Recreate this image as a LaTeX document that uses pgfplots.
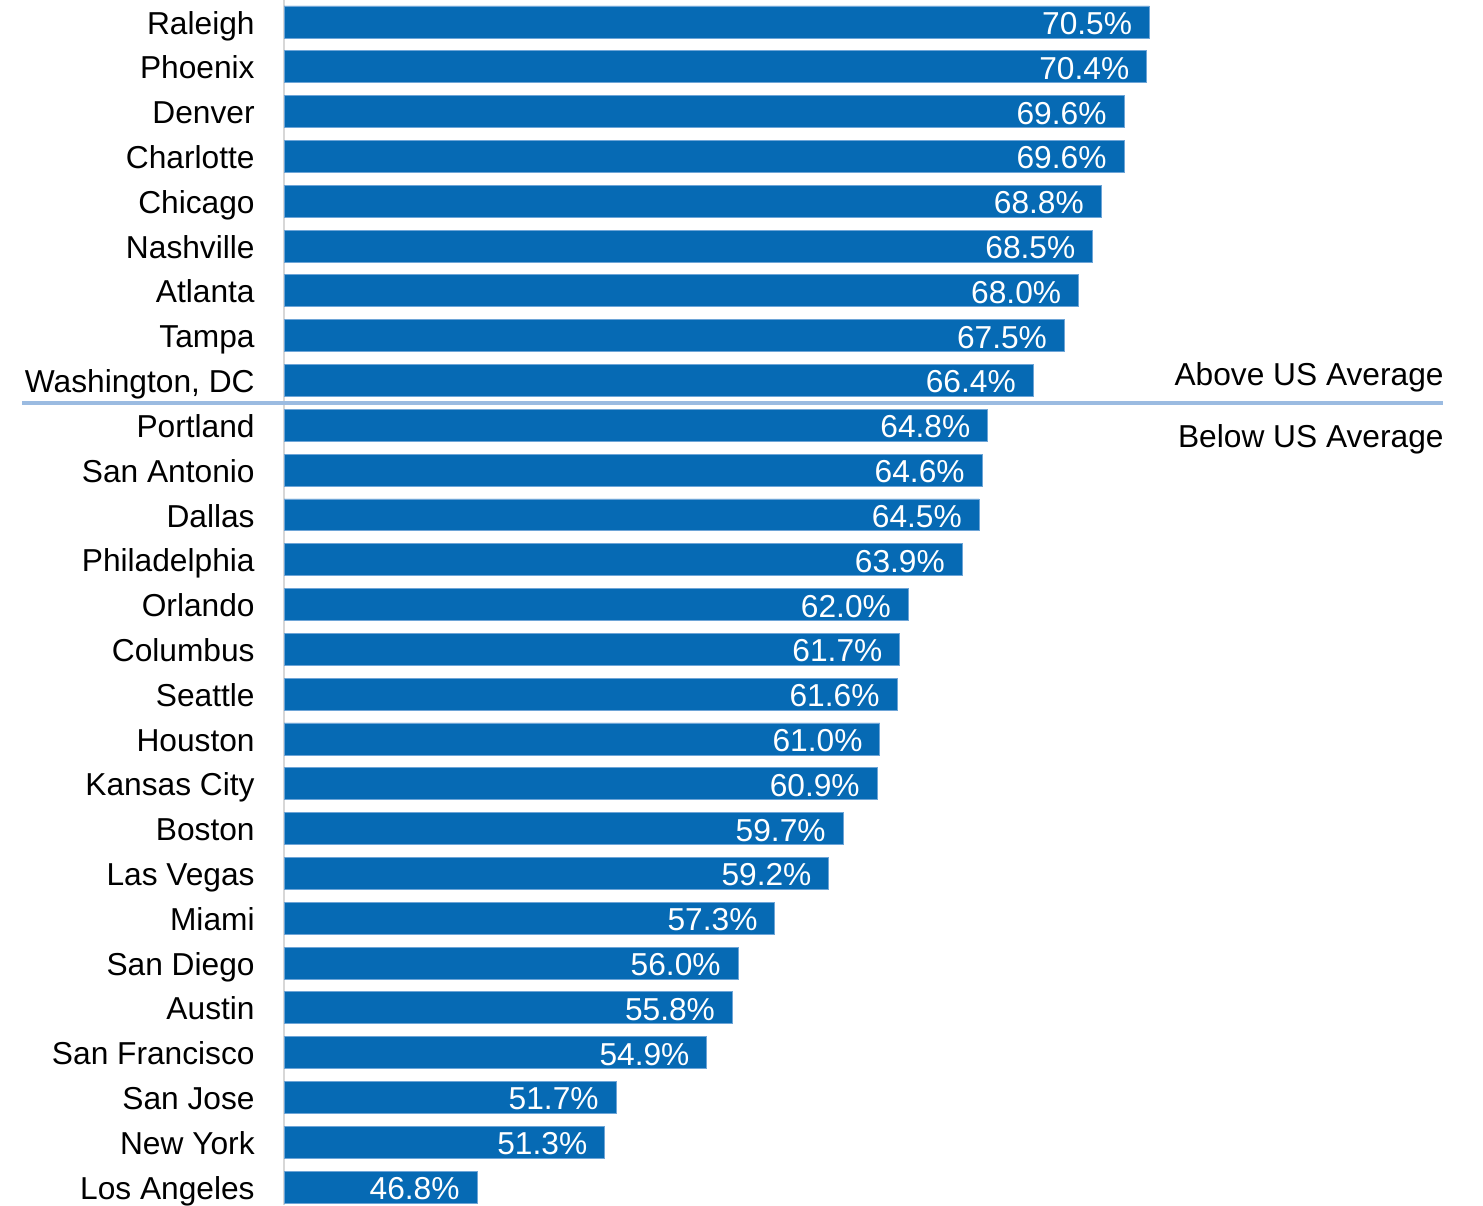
\documentclass[border=0pt]{standalone}
\usepackage{fontspec}
\setmainfont{Liberation Sans}
\usepackage{pgfplots}
\pgfplotsset{compat=1.18}
\definecolor{barblue}{RGB}{6,106,180}
\definecolor{baredge}{RGB}{110,165,215}
\definecolor{sepblue}{RGB}{155,187,225}
\definecolor{axgray}{RGB}{215,215,215}
\newcommand{\chartfont}{\fontsize{15.85}{19}\selectfont}
\begin{document}
\begin{tikzpicture}
\begin{axis}[
  at={(142pt,0pt)}, anchor=south west,
  scale only axis, width=567.5pt, height=602.5pt,
  xbar, bar width=0.714,
  xmin=40, xmax=80,
  ymin=-0.49, ymax=26.4, y dir=reverse,
  axis x line=none,
  axis y line*=left,
  y axis line style={draw=axgray, line width=0.8pt},
  ytick={0,...,26},
  yticklabels={Raleigh,Phoenix,Denver,Charlotte,Chicago,Nashville,Atlanta,Tampa,{Washington, DC},Portland,San Antonio,Dallas,Philadelphia,Orlando,Columbus,Seattle,Houston,Kansas City,Boston,Las Vegas,Miami,San Diego,Austin,San Francisco,San Jose,New York,Los Angeles},
  major tick length=0pt,
  yticklabel style={anchor=east, inner sep=0pt, xshift=-14.5pt, yshift=-0.4pt, text height=11.3pt, text depth=0pt, font=\chartfont},
  point meta=x,
  nodes near coords={\pgfmathprintnumber[fixed,fixed zerofill,precision=1]{\pgfplotspointmeta}\%},
  nodes near coords style={anchor=east, inner sep=0pt, xshift=-8.5pt, yshift=-0.6pt, text height=11.3pt, text depth=0pt, text=white, font=\chartfont, /pgf/number format/assume math mode=true},
]
\addplot[fill=barblue, draw=baredge, line width=0.4pt] coordinates {
(70.5,0) (70.4,1) (69.6,2) (69.6,3) (68.8,4) (68.5,5) (68.0,6) (67.5,7) (66.4,8)
(64.8,9) (64.6,10) (64.5,11) (63.9,12) (62.0,13) (61.7,14) (61.6,15) (61.0,16)
(60.9,17) (59.7,18) (59.2,19) (57.3,20) (56.0,21) (55.8,22) (54.9,23) (51.7,24)
(51.3,25) (46.8,26)
};
\coordinate (sepL) at (axis cs:30.77,8.5);
\coordinate (sepR) at (axis cs:80.84,8.5);
\coordinate (above) at (axis cs:80.88,7.86);
\coordinate (below) at (axis cs:80.88,9.24);
\end{axis}
\draw[sepblue, line width=2pt] (sepL) -- (sepR);
\node[anchor=east, inner sep=0pt, text height=11.3pt, text depth=0pt, font=\chartfont] at (above) {Above US Average};
\node[anchor=east, inner sep=0pt, text height=11.3pt, text depth=0pt, font=\chartfont] at (below) {Below US Average};
\pgfresetboundingbox
\useasboundingbox (0,0) rectangle (741.5pt,602.5pt);
\end{tikzpicture}
\end{document}
